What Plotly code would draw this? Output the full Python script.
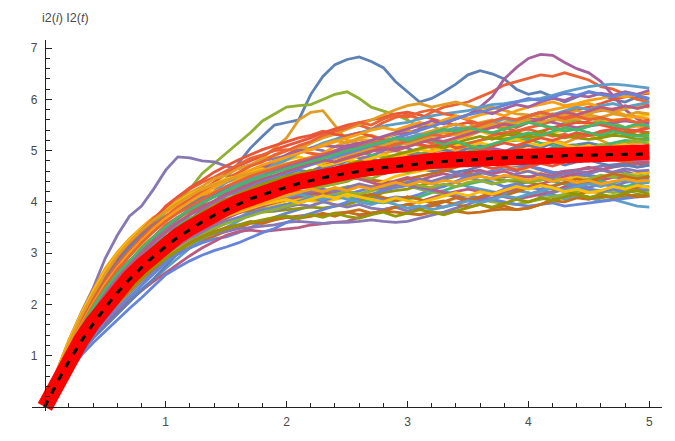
import plotly.graph_objects as go

# time grid (step 0.1 from 0 to 5)
t = [round(0.1 * k, 1) for k in range(51)]

# theoretical mean (thick red) and sample mean (black dashed)
mean_curve = [0, .48, .91, 1.30, 1.65, 1.97, 2.26, 2.52, 2.75, 2.97, 3.16,
              3.34, 3.49, 3.64, 3.77, 3.88, 3.99, 4.09, 4.17, 4.25, 4.32,
              4.39, 4.45, 4.50, 4.55, 4.59, 4.63, 4.66, 4.70, 4.72, 4.75,
              4.77, 4.80, 4.82, 4.83, 4.85, 4.86, 4.88, 4.89, 4.90, 4.91,
              4.92, 4.93, 4.93, 4.94, 4.94, 4.95, 4.95, 4.96, 4.96, 4.97]
sample_mean = [0, .47, .89, 1.28, 1.62, 1.94, 2.23, 2.49, 2.72, 2.94, 3.13,
               3.31, 3.46, 3.61, 3.74, 3.85, 3.96, 4.06, 4.14, 4.22, 4.29,
               4.36, 4.42, 4.47, 4.52, 4.56, 4.60, 4.63, 4.67, 4.69, 4.72,
               4.74, 4.77, 4.79, 4.80, 4.82, 4.83, 4.85, 4.86, 4.87, 4.88,
               4.89, 4.90, 4.90, 4.91, 4.91, 4.92, 4.92, 4.93, 4.93, 4.94]

# sample paths
p00 = [0, .5, .97, 1.38, 1.76, 2.1, 2.42, 2.7, 2.95, 3.18, 3.4, 3.62, 3.82, 4.0, 4.2, 4.45, 4.75, 5.05, 5.28, 5.5, 5.55, 5.6, 6.1, 6.45, 6.68, 6.78, 6.83, 6.74, 6.62, 6.35, 6.15, 5.95, 6.02, 6.15, 6.3, 6.48, 6.56, 6.5, 6.4, 6.2, 6.1, 6.15, 6.05, 5.95, 6.05, 6.15, 6.1, 6.0, 5.95, 6.05, 6.0]
p01 = [0, .59, 1.1, 1.56, 1.98, 2.37, 2.7, 2.98, 3.22, 3.45, 3.62, 3.8, 3.95, 4.12, 4.3, 4.45, 4.55, 4.7, 4.85, 5.05, 5.25, 5.6, 5.75, 5.78, 5.5, 5.2, 5.15, 5.05, 4.95, 5.0, 4.92, 4.85, 4.8, 4.72, 4.78, 4.7, 4.8, 4.9, 4.95, 5.05, 5.0, 5.1, 5.2, 5.15, 5.25, 5.3, 5.2, 5.1, 5.15, 5.05, 5.1]
p02 = [0, .62, 1.18, 1.68, 2.12, 2.5, 2.82, 3.1, 3.35, 3.58, 3.8, 4.02, 4.25, 4.55, 4.75, 4.95, 5.15, 5.35, 5.58, 5.72, 5.85, 5.88, 5.9, 6.0, 6.1, 6.15, 6.02, 5.85, 5.78, 5.7, 5.6, 5.45, 5.5, 5.35, 5.4, 5.3, 5.45, 5.5, 5.4, 5.55, 5.6, 5.5, 5.42, 5.55, 5.6, 5.5, 5.62, 5.55, 5.45, 5.5, 5.58]
p03 = [0, .53, 1.0, 1.42, 1.8, 2.15, 2.45, 2.72, 2.95, 3.2, 3.4, 3.6, 3.78, 3.95, 4.12, 4.3, 4.4, 4.55, 4.7, 4.78, 4.92, 5.05, 5.15, 5.3, 5.38, 5.45, 5.5, 5.42, 5.55, 5.65, 5.7, 5.62, 5.75, 5.85, 5.9, 5.95, 6.05, 6.15, 6.28, 6.35, 6.42, 6.48, 6.45, 6.52, 6.45, 6.38, 6.25, 6.2, 6.1, 6.0, 5.95]
p04 = [0, .7, 1.3, 1.83, 2.32, 2.9, 3.35, 3.72, 3.92, 4.25, 4.62, 4.88, 4.86, 4.8, 4.78, 4.7, 4.65, 4.72, 4.8, 4.85, 4.9, 4.95, 5.05, 5.0, 4.92, 4.98, 4.85, 4.9, 5.0, 5.1, 5.05, 4.95, 4.9, 4.8, 4.85, 4.75, 4.7, 4.78, 4.65, 4.6, 4.7, 4.62, 4.55, 4.6, 4.5, 4.58, 4.65, 4.55, 4.6, 4.52, 4.48]
p05 = [0, .44, .84, 1.2, 1.52, 1.8, 2.06, 2.28, 2.48, 2.66, 2.85, 2.99, 3.12, 3.24, 3.33, 3.43, 3.5, 3.58, 3.6, 3.66, 3.7, 3.72, 3.75, 3.73, 3.78, 3.8, 3.75, 3.78, 3.82, 3.8, 3.78, 3.75, 3.8, 3.78, 3.82, 3.78, 3.8, 3.84, 3.86, 3.85, 3.88, 3.95, 4.05, 4.1, 4.15, 4.2, 4.18, 4.25, 4.22, 4.28, 4.3]
p06 = [0, .41, .78, 1.12, 1.42, 1.68, 1.93, 2.12, 2.3, 2.48, 2.7, 2.9, 3.1, 3.28, 3.4, 3.5, 3.62, 3.75, 3.82, 3.9, 3.95, 3.98, 4.05, 4.0, 4.08, 4.1, 4.15, 4.22, 4.3, 4.38, 4.45, 4.4, 4.35, 4.32, 4.38, 4.3, 4.25, 4.2, 4.15, 4.22, 4.18, 4.12, 4.15, 4.05, 4.1, 4.08, 4.02, 4.05, 3.98, 3.92, 3.9]
p07 = [0, .61, 1.15, 1.62, 2.05, 2.42, 2.72, 2.96, 3.15, 3.32, 3.48, 3.65, 3.78, 3.9, 4.0, 4.12, 4.25, 4.38, 4.55, 4.7, 4.82, 4.88, 4.8, 4.75, 4.78, 4.8, 4.9, 5.0, 5.05, 5.12, 5.15, 5.2, 5.3, 5.35, 5.42, 5.45, 5.38, 5.3, 5.25, 5.22, 5.2, 5.28, 5.35, 5.4, 5.45, 5.5, 5.55, 5.6, 5.62, 5.68, 5.7]
p08 = [0, .49, .93, 1.33, 1.7, 2.02, 2.35, 2.62, 2.88, 3.1, 3.32, 3.45, 3.55, 3.68, 3.8, 3.88, 4.02, 4.18, 4.3, 4.45, 4.6, 4.7, 4.82, 4.9, 5.0, 5.1, 5.15, 5.2, 5.25, 5.32, 5.35, 5.42, 5.5, 5.55, 5.62, 5.7, 5.85, 6.05, 6.4, 6.62, 6.8, 6.88, 6.86, 6.72, 6.6, 6.52, 6.35, 6.08, 5.8, 5.62, 5.52]
p09 = [0, .46, .87, 1.24, 1.57, 1.87, 2.15, 2.42, 2.68, 2.92, 3.15, 3.36, 3.55, 3.72, 3.88, 4.02, 4.15, 4.2, 4.25, 4.3, 4.32, 4.3, 4.28, 4.32, 4.35, 4.4, 4.5, 4.62, 4.72, 4.78, 4.85, 4.92, 5.0, 5.08, 5.1, 5.15, 5.2, 5.25, 5.22, 5.28, 5.25, 5.3, 5.32, 5.28, 5.25, 5.22, 5.25, 5.3, 5.28, 5.22, 5.25]
p10 = [0, .57, 1.07, 1.51, 1.9, 2.27, 2.62, 2.95, 3.25, 3.5, 3.7, 3.88, 4.05, 4.22, 4.38, 4.55, 4.7, 4.8, 4.9, 5.02, 5.1, 5.18, 5.25, 5.35, 5.42, 5.5, 5.55, 5.6, 5.65, 5.72, 5.75, 5.7, 5.62, 5.55, 5.5, 5.55, 5.48, 5.45, 5.5, 5.45, 5.55, 5.6, 5.7, 5.75, 5.8, 5.85, 5.92, 6.0, 6.05, 6.1, 6.12]
p11 = [0, .43, .82, 1.18, 1.49, 1.77, 2.02, 2.24, 2.44, 2.62, 2.82, 2.98, 3.1, 3.2, 3.28, 3.32, 3.4, 3.5, 3.6, 3.7, 3.78, 3.85, 3.92, 4.02, 4.1, 4.2, 4.15, 4.1, 4.05, 4.1, 4.08, 4.15, 4.25, 4.3, 4.4, 4.5, 4.55, 4.6, 4.65, 4.68, 4.7, 4.65, 4.58, 4.55, 4.5, 4.52, 4.48, 4.5, 4.45, 4.48, 4.45]
p12 = [0, .66, 1.22, 1.72, 2.17, 2.57, 2.9, 3.18, 3.42, 3.65, 3.86, 4.02, 4.12, 4.2, 4.28, 4.38, 4.45, 4.5, 4.58, 4.62, 4.7, 4.8, 4.88, 4.95, 5.08, 5.18, 5.22, 5.2, 5.15, 5.12, 5.15, 5.1, 5.05, 5.0, 5.02, 5.05, 4.98, 4.9, 4.85, 4.82, 4.8, 4.85, 4.92, 5.0, 5.02, 5.05, 5.0, 5.08, 5.12, 5.15, 5.18]
p13 = [0, .4, .76, 1.08, 1.37, 1.62, 1.86, 2.07, 2.27, 2.45, 2.62, 2.78, 2.95, 3.1, 3.22, 3.35, 3.42, 3.45, 3.42, 3.45, 3.48, 3.5, 3.55, 3.58, 3.6, 3.62, 3.7, 3.75, 3.85, 3.9, 3.95, 4.0, 4.08, 4.15, 4.2, 4.25, 4.2, 4.15, 4.1, 4.05, 4.1, 4.15, 4.2, 4.3, 4.35, 4.38, 4.42, 4.48, 4.5, 4.55, 4.58]
p14 = [0, .47, .89, 1.27, 1.61, 1.9, 2.18, 2.42, 2.62, 2.8, 2.98, 3.14, 3.28, 3.4, 3.5, 3.58, 3.68, 3.82, 3.95, 4.05, 4.12, 4.1, 4.05, 4.02, 4.08, 4.1, 4.05, 4.0, 3.98, 4.02, 4.05, 4.1, 4.18, 4.22, 4.3, 4.35, 4.4, 4.45, 4.5, 4.48, 4.5, 4.45, 4.4, 4.35, 4.32, 4.35, 4.4, 4.35, 4.3, 4.35, 4.38]
p15 = [0, .39, .74, 1.06, 1.34, 1.58, 1.82, 2.05, 2.28, 2.5, 2.75, 3.0, 3.22, 3.42, 3.6, 3.72, 3.85, 3.98, 4.1, 4.2, 4.3, 4.42, 4.55, 4.65, 4.72, 4.8, 4.75, 4.72, 4.7, 4.75, 4.72, 4.65, 4.6, 4.62, 4.58, 4.62, 4.7, 4.78, 4.85, 4.88, 4.92, 5.0, 5.05, 5.1, 5.12, 5.15, 5.1, 5.05, 5.0, 4.98, 4.95]
p16 = [0, .55, 1.03, 1.46, 1.84, 2.18, 2.48, 2.72, 2.92, 3.12, 3.3, 3.48, 3.65, 3.82, 3.98, 4.2, 4.35, 4.5, 4.62, 4.75, 4.9, 5.02, 5.15, 5.25, 5.32, 5.42, 5.5, 5.6, 5.7, 5.8, 5.88, 5.92, 5.85, 5.9, 5.95, 5.88, 5.82, 5.85, 5.78, 5.72, 5.7, 5.65, 5.72, 5.68, 5.62, 5.65, 5.58, 5.5, 5.45, 5.48, 5.45]
p17 = [0, .49, .94, 1.34, 1.7, 2.02, 2.28, 2.5, 2.7, 2.9, 3.1, 3.28, 3.42, 3.55, 3.65, 3.73, 3.8, 3.85, 3.88, 3.9, 3.95, 4.02, 4.12, 4.18, 4.25, 4.3, 4.32, 4.28, 4.3, 4.35, 4.32, 4.25, 4.2, 4.15, 4.1, 4.12, 4.05, 4.0, 3.98, 3.95, 4.0, 4.05, 4.1, 4.15, 4.2, 4.25, 4.22, 4.18, 4.2, 4.22, 4.2]
p18 = [0, .64, 1.2, 1.68, 2.12, 2.5, 2.85, 3.15, 3.4, 3.62, 3.92, 4.1, 4.25, 4.38, 4.48, 4.6, 4.72, 4.85, 4.92, 5.0, 5.02, 5.0, 4.95, 4.92, 4.95, 5.0, 5.08, 5.15, 5.2, 5.22, 5.25, 5.2, 5.15, 5.1, 5.15, 5.12, 5.2, 5.3, 5.35, 5.38, 5.45, 5.5, 5.58, 5.65, 5.7, 5.75, 5.78, 5.82, 5.85, 5.88, 5.9]
p19 = [0, .42, .8, 1.15, 1.45, 1.72, 1.98, 2.22, 2.45, 2.7, 2.93, 3.1, 3.22, 3.32, 3.38, 3.42, 3.48, 3.5, 3.52, 3.55, 3.6, 3.62, 3.6, 3.58, 3.6, 3.6, 3.62, 3.65, 3.62, 3.6, 3.62, 3.68, 3.75, 3.8, 3.88, 3.95, 4.05, 4.15, 4.25, 4.32, 4.4, 4.48, 4.55, 4.6, 4.62, 4.65, 4.7, 4.72, 4.75, 4.78, 4.78]
p20 = [0, .53, .99, 1.4, 1.78, 2.12, 2.4, 2.64, 2.86, 3.06, 3.24, 3.42, 3.6, 3.78, 3.92, 4.12, 4.2, 4.3, 4.4, 4.45, 4.52, 4.55, 4.52, 4.5, 4.48, 4.5, 4.45, 4.42, 4.4, 4.38, 4.45, 4.5, 4.55, 4.6, 4.68, 4.75, 4.82, 4.9, 4.98, 5.05, 5.1, 5.05, 5.0, 4.95, 4.92, 4.95, 4.88, 4.82, 4.78, 4.75, 4.75]
p21 = [0, .51, .96, 1.37, 1.74, 2.08, 2.4, 2.7, 2.98, 3.22, 3.48, 3.68, 3.88, 4.05, 4.2, 4.38, 4.5, 4.6, 4.65, 4.72, 4.82, 4.95, 5.05, 5.15, 5.22, 5.3, 5.35, 5.42, 5.48, 5.52, 5.55, 5.62, 5.68, 5.72, 5.75, 5.78, 5.85, 5.9, 5.92, 5.95, 5.98, 6.02, 6.08, 6.15, 6.2, 6.25, 6.28, 6.3, 6.28, 6.25, 6.22]
p22 = [0, .59, 1.1, 1.55, 1.96, 2.32, 2.6, 2.82, 3.0, 3.2, 3.4, 3.52, 3.6, 3.68, 3.75, 3.82, 3.85, 3.9, 3.92, 3.95, 4.02, 4.05, 4.02, 4.0, 4.05, 4.1, 4.2, 4.3, 4.4, 4.5, 4.55, 4.6, 4.65, 4.7, 4.78, 4.85, 4.8, 4.75, 4.68, 4.65, 4.6, 4.55, 4.5, 4.45, 4.48, 4.45, 4.5, 4.55, 4.52, 4.55, 4.58]
p23 = [0, .44, .84, 1.21, 1.53, 1.83, 2.12, 2.4, 2.68, 2.95, 3.18, 3.42, 3.65, 3.85, 4.0, 4.2, 4.35, 4.5, 4.65, 4.8, 4.92, 5.0, 5.05, 5.1, 5.08, 5.1, 5.05, 5.0, 5.02, 5.05, 5.08, 5.15, 5.22, 5.28, 5.32, 5.35, 5.42, 5.48, 5.52, 5.58, 5.62, 5.6, 5.55, 5.5, 5.45, 5.48, 5.52, 5.55, 5.58, 5.55, 5.6]
p24 = [0, .44, .85, 1.21, 1.53, 1.82, 2.1, 2.35, 2.58, 2.82, 3.05, 3.25, 3.42, 3.58, 3.72, 3.8, 3.85, 3.82, 3.8, 3.82, 3.85, 3.88, 3.9, 3.88, 3.92, 3.95, 4.02, 4.1, 4.18, 4.22, 4.25, 4.32, 4.38, 4.45, 4.5, 4.55, 4.5, 4.45, 4.42, 4.4, 4.38, 4.32, 4.25, 4.2, 4.15, 4.1, 4.08, 4.12, 4.1, 4.15, 4.12]
p25 = [0, .55, 1.03, 1.46, 1.85, 2.2, 2.52, 2.82, 3.1, 3.32, 3.55, 3.7, 3.82, 3.92, 4.0, 4.05, 4.1, 4.15, 4.2, 4.25, 4.32, 4.45, 4.6, 4.7, 4.78, 4.88, 4.95, 5.02, 5.1, 5.18, 5.25, 5.3, 5.35, 5.38, 5.4, 5.45, 5.4, 5.35, 5.32, 5.3, 5.3, 5.38, 5.45, 5.5, 5.55, 5.55, 5.5, 5.45, 5.42, 5.38, 5.35]
p26 = [0, .36, .69, 1.0, 1.25, 1.47, 1.71, 1.92, 2.13, 2.35, 2.58, 2.72, 2.85, 2.96, 3.05, 3.12, 3.2, 3.3, 3.4, 3.48, 3.6, 3.7, 3.78, 3.85, 3.92, 4.0, 4.08, 4.15, 4.22, 4.28, 4.32, 4.28, 4.22, 4.2, 4.15, 4.12, 4.08, 4.05, 4.0, 3.95, 3.92, 3.95, 3.98, 3.92, 3.95, 3.98, 4.02, 4.05, 4.08, 4.1, 4.12]
p27 = [0, .7, 1.31, 1.82, 2.28, 2.7, 3.02, 3.28, 3.5, 3.7, 3.8, 3.95, 4.05, 4.12, 4.2, 4.28, 4.35, 4.38, 4.4, 4.45, 4.52, 4.55, 4.5, 4.52, 4.55, 4.6, 4.68, 4.75, 4.82, 4.88, 4.95, 5.02, 5.1, 5.15, 5.22, 5.28, 5.38, 5.48, 5.55, 5.62, 5.68, 5.75, 5.8, 5.85, 5.88, 5.92, 5.85, 5.78, 5.7, 5.65, 5.62]
p28 = [0, .46, .86, 1.24, 1.57, 1.87, 2.12, 2.35, 2.56, 2.76, 2.98, 3.18, 3.38, 3.55, 3.7, 3.82, 3.95, 4.08, 4.2, 4.3, 4.4, 4.42, 4.45, 4.48, 4.5, 4.5, 4.45, 4.38, 4.32, 4.3, 4.35, 4.3, 4.25, 4.18, 4.1, 4.05, 4.08, 4.15, 4.2, 4.25, 4.3, 4.35, 4.42, 4.5, 4.55, 4.58, 4.62, 4.68, 4.72, 4.75, 4.78]
p29 = [0, .57, 1.07, 1.5, 1.9, 2.25, 2.52, 2.76, 2.98, 3.2, 3.4, 3.55, 3.68, 3.78, 3.85, 3.95, 4.05, 4.18, 4.3, 4.45, 4.6, 4.72, 4.82, 4.88, 4.95, 5.0, 4.98, 4.92, 4.88, 4.9, 4.95, 4.92, 4.95, 4.9, 4.95, 4.98, 5.05, 5.12, 5.18, 5.2, 5.22, 5.15, 5.1, 5.05, 5.08, 5.05, 5.1, 5.15, 5.2, 5.18, 5.22]
p30 = [0, .62, 1.2, 1.7, 2.15, 2.55, 2.85, 3.12, 3.35, 3.55, 3.72, 3.85, 3.95, 4.08, 4.15, 4.28, 4.35, 4.42, 4.38, 4.5, 4.55, 4.62, 4.58, 4.7, 4.75, 4.72, 4.8, 4.85, 4.78, 4.9, 4.95, 4.88, 4.98, 5.02, 4.95, 5.05, 5.1, 5.02, 4.98, 5.08, 5.12, 5.05, 5.15, 5.1, 5.02, 4.95, 5.02, 4.98, 4.92, 5.0, 5.05]
p31 = [0, .66, 1.25, 1.78, 2.22, 2.62, 2.95, 3.22, 3.45, 3.68, 3.85, 4.02, 4.18, 4.3, 4.45, 4.52, 4.65, 4.72, 4.85, 4.9, 5.0, 5.08, 5.02, 5.12, 5.2, 5.15, 5.25, 5.3, 5.22, 5.35, 5.4, 5.32, 5.38, 5.45, 5.52, 5.45, 5.55, 5.6, 5.52, 5.58, 5.65, 5.72, 5.65, 5.7, 5.78, 5.72, 5.8, 5.75, 5.82, 5.88, 5.85]
p32 = [0, .42, .8, 1.16, 1.46, 1.75, 2.0, 2.25, 2.48, 2.72, 2.92, 3.12, 3.28, 3.45, 3.55, 3.68, 3.8, 3.88, 3.95, 4.05, 4.1, 4.18, 4.22, 4.3, 4.35, 4.42, 4.5, 4.45, 4.55, 4.62, 4.58, 4.65, 4.72, 4.68, 4.78, 4.85, 4.8, 4.9, 4.95, 4.88, 4.98, 5.02, 4.95, 5.05, 5.1, 5.05, 5.12, 5.08, 5.15, 5.2, 5.12]
p33 = [0, .6, 1.15, 1.65, 2.08, 2.45, 2.78, 3.05, 3.3, 3.52, 3.72, 3.9, 4.05, 4.2, 4.32, 4.45, 4.58, 4.7, 4.78, 4.92, 5.0, 5.1, 5.18, 5.3, 5.38, 5.45, 5.55, 5.5, 5.62, 5.7, 5.65, 5.75, 5.8, 5.72, 5.68, 5.6, 5.52, 5.58, 5.45, 5.38, 5.42, 5.35, 5.28, 5.32, 5.25, 5.3, 5.35, 5.4, 5.32, 5.38, 5.45]
p34 = [0, .45, .85, 1.22, 1.55, 1.85, 2.12, 2.38, 2.6, 2.8, 3.0, 3.15, 3.3, 3.42, 3.52, 3.62, 3.7, 3.78, 3.85, 3.82, 3.9, 3.95, 3.92, 4.0, 3.95, 3.9, 3.95, 3.88, 3.85, 3.9, 3.82, 3.88, 3.95, 3.9, 3.98, 4.05, 4.0, 4.08, 4.12, 4.05, 4.15, 4.22, 4.18, 4.25, 4.32, 4.28, 4.35, 4.3, 4.38, 4.42, 4.4]
p35 = [0, .5, .95, 1.35, 1.72, 2.05, 2.35, 2.6, 2.82, 3.02, 3.22, 3.38, 3.52, 3.65, 3.75, 3.85, 3.92, 3.98, 4.05, 4.12, 4.18, 4.22, 4.15, 4.2, 4.12, 4.18, 4.1, 4.15, 4.08, 4.02, 4.1, 4.05, 3.98, 4.02, 3.95, 3.9, 3.95, 3.88, 3.92, 3.85, 3.88, 3.95, 4.02, 4.0, 4.08, 4.05, 4.12, 4.08, 4.15, 4.1, 4.12]
p36 = [0, .56, 1.05, 1.48, 1.88, 2.22, 2.52, 2.8, 3.05, 3.28, 3.5, 3.68, 3.85, 4.0, 4.1, 4.22, 4.35, 4.45, 4.55, 4.62, 4.7, 4.75, 4.85, 4.92, 4.88, 4.98, 5.05, 5.12, 5.08, 5.2, 5.25, 5.32, 5.28, 5.38, 5.45, 5.4, 5.48, 5.55, 5.62, 5.58, 5.68, 5.75, 5.7, 5.78, 5.85, 5.8, 5.88, 5.92, 5.85, 5.9, 5.95]
p37 = [0, .68, 1.28, 1.8, 2.25, 2.65, 2.98, 3.25, 3.48, 3.68, 3.85, 4.0, 4.15, 4.25, 4.35, 4.45, 4.5, 4.58, 4.65, 4.6, 4.68, 4.72, 4.78, 4.7, 4.75, 4.82, 4.78, 4.85, 4.92, 4.88, 4.95, 5.02, 4.98, 5.05, 5.12, 5.08, 5.15, 5.1, 5.18, 5.22, 5.15, 5.1, 5.18, 5.12, 5.05, 5.1, 5.02, 5.08, 5.12, 5.05, 5.1]
p38 = [0, .48, .92, 1.32, 1.68, 2.0, 2.3, 2.55, 2.78, 3.0, 3.2, 3.38, 3.52, 3.68, 3.82, 3.92, 4.05, 4.15, 4.25, 4.32, 4.4, 4.48, 4.52, 4.58, 4.52, 4.6, 4.68, 4.62, 4.7, 4.75, 4.82, 4.78, 4.85, 4.9, 4.85, 4.92, 4.98, 5.05, 5.0, 4.95, 5.02, 4.95, 4.88, 4.92, 4.85, 4.9, 4.82, 4.88, 4.92, 4.85, 4.88]
p39 = [0, .52, .98, 1.38, 1.75, 2.08, 2.38, 2.65, 2.9, 3.12, 3.32, 3.5, 3.65, 3.8, 3.92, 4.05, 4.15, 4.25, 4.35, 4.42, 4.5, 4.55, 4.62, 4.58, 4.65, 4.72, 4.8, 4.75, 4.85, 4.92, 4.98, 5.05, 5.1, 5.05, 5.15, 5.22, 5.28, 5.22, 5.3, 5.35, 5.3, 5.38, 5.32, 5.25, 5.3, 5.35, 5.28, 5.32, 5.38, 5.3, 5.35]
p40 = [0, .64, 1.22, 1.74, 2.18, 2.58, 2.92, 3.2, 3.45, 3.68, 3.9, 4.1, 4.28, 4.42, 4.58, 4.7, 4.82, 4.92, 5.02, 5.1, 5.18, 5.25, 5.3, 5.38, 5.32, 5.28, 5.35, 5.28, 5.22, 5.15, 5.2, 5.12, 5.08, 5.15, 5.05, 5.1, 5.02, 5.08, 5.15, 5.1, 5.18, 5.25, 5.2, 5.28, 5.35, 5.3, 5.38, 5.42, 5.35, 5.4, 5.45]
p41 = [0, .4, .77, 1.1, 1.4, 1.68, 1.92, 2.15, 2.38, 2.6, 2.82, 3.02, 3.2, 3.35, 3.48, 3.6, 3.68, 3.75, 3.82, 3.9, 3.95, 4.02, 4.08, 4.02, 4.1, 4.15, 4.22, 4.28, 4.22, 4.3, 4.35, 4.42, 4.38, 4.45, 4.52, 4.48, 4.42, 4.38, 4.3, 4.35, 4.28, 4.25, 4.32, 4.38, 4.3, 4.25, 4.2, 4.25, 4.18, 4.22, 4.25]
p42 = [0, .6, 1.12, 1.6, 2.02, 2.4, 2.72, 3.0, 3.25, 3.48, 3.68, 3.85, 4.0, 4.15, 4.28, 4.4, 4.52, 4.62, 4.72, 4.8, 4.88, 4.95, 5.02, 5.1, 5.18, 5.25, 5.32, 5.4, 5.45, 5.4, 5.48, 5.55, 5.5, 5.6, 5.68, 5.62, 5.7, 5.75, 5.68, 5.78, 5.85, 5.9, 5.95, 5.88, 5.92, 5.98, 6.02, 6.08, 6.05, 6.1, 6.15]
p43 = [0, .45, .86, 1.22, 1.55, 1.84, 2.1, 2.35, 2.58, 2.78, 2.98, 3.15, 3.32, 3.45, 3.58, 3.68, 3.78, 3.85, 3.92, 3.98, 4.05, 4.1, 4.18, 4.12, 4.2, 4.25, 4.32, 4.28, 4.35, 4.42, 4.48, 4.42, 4.5, 4.55, 4.5, 4.58, 4.62, 4.55, 4.6, 4.52, 4.48, 4.55, 4.5, 4.58, 4.62, 4.68, 4.62, 4.7, 4.75, 4.68, 4.72]
p44 = [0, .55, 1.02, 1.45, 1.85, 2.2, 2.5, 2.75, 3.0, 3.22, 3.42, 3.6, 3.75, 3.9, 4.02, 4.15, 4.28, 4.4, 4.5, 4.6, 4.68, 4.78, 4.85, 4.9, 4.98, 5.05, 5.0, 5.08, 5.15, 5.1, 5.18, 5.25, 5.2, 5.12, 5.18, 5.1, 5.05, 5.12, 5.2, 5.28, 5.35, 5.3, 5.38, 5.45, 5.4, 5.48, 5.55, 5.5, 5.45, 5.52, 5.48]
p45 = [0, .5, .94, 1.34, 1.7, 2.02, 2.32, 2.58, 2.82, 3.02, 3.22, 3.4, 3.55, 3.68, 3.8, 3.9, 4.0, 4.08, 4.15, 4.22, 4.28, 4.35, 4.42, 4.48, 4.55, 4.5, 4.58, 4.65, 4.6, 4.68, 4.62, 4.7, 4.75, 4.82, 4.78, 4.72, 4.78, 4.85, 4.8, 4.75, 4.7, 4.75, 4.8, 4.72, 4.78, 4.82, 4.75, 4.7, 4.72, 4.68, 4.72]
p46 = [0, .65, 1.24, 1.76, 2.2, 2.6, 2.95, 3.22, 3.45, 3.65, 3.82, 3.98, 4.12, 4.25, 4.35, 4.42, 4.5, 4.55, 4.62, 4.68, 4.75, 4.8, 4.85, 4.78, 4.85, 4.92, 4.98, 5.05, 5.1, 5.18, 5.12, 5.2, 5.28, 5.35, 5.3, 5.38, 5.45, 5.52, 5.48, 5.55, 5.6, 5.55, 5.62, 5.58, 5.65, 5.7, 5.65, 5.72, 5.68, 5.75, 5.72]
p47 = [0, .44, .83, 1.19, 1.5, 1.79, 2.05, 2.3, 2.52, 2.72, 2.9, 3.08, 3.22, 3.35, 3.48, 3.58, 3.65, 3.72, 3.8, 3.85, 3.92, 3.98, 4.05, 4.1, 4.15, 4.2, 4.15, 4.22, 4.28, 4.32, 4.38, 4.32, 4.28, 4.35, 4.3, 4.38, 4.42, 4.35, 4.4, 4.45, 4.38, 4.42, 4.48, 4.42, 4.38, 4.45, 4.52, 4.48, 4.55, 4.5, 4.52]
p48 = [0, .58, 1.1, 1.56, 1.98, 2.35, 2.68, 2.95, 3.2, 3.42, 3.62, 3.78, 3.92, 4.05, 4.18, 4.3, 4.4, 4.5, 4.58, 4.65, 4.72, 4.8, 4.85, 4.92, 5.0, 4.95, 5.02, 5.1, 5.05, 5.12, 5.18, 5.25, 5.32, 5.28, 5.35, 5.42, 5.5, 5.58, 5.65, 5.6, 5.68, 5.75, 5.7, 5.62, 5.68, 5.6, 5.65, 5.58, 5.62, 5.55, 5.6]
p49 = [0, .47, .88, 1.26, 1.6, 1.9, 2.18, 2.42, 2.64, 2.85, 3.05, 3.22, 3.38, 3.5, 3.62, 3.72, 3.8, 3.88, 3.95, 4.02, 4.08, 4.15, 4.2, 4.25, 4.2, 4.28, 4.35, 4.3, 4.25, 4.32, 4.38, 4.45, 4.4, 4.48, 4.55, 4.5, 4.58, 4.52, 4.48, 4.55, 4.6, 4.52, 4.48, 4.55, 4.6, 4.55, 4.62, 4.58, 4.65, 4.6, 4.62]
p50 = [0, .43, .81, 1.17, 1.48, 1.76, 2.02, 2.26, 2.5, 2.7, 2.9, 3.05, 3.2, 3.32, 3.42, 3.5, 3.55, 3.62, 3.58, 3.65, 3.7, 3.68, 3.72, 3.78, 3.72, 3.8, 3.85, 3.78, 3.82, 3.9, 3.95, 3.88, 3.92, 4.0, 4.08, 4.02, 4.1, 4.18, 4.12, 4.2, 4.28, 4.35, 4.3, 4.38, 4.45, 4.4, 4.48, 4.55, 4.5, 4.45, 4.5]
p51 = [0, .46, .88, 1.25, 1.58, 1.88, 2.15, 2.4, 2.62, 2.82, 3.02, 3.2, 3.35, 3.5, 3.62, 3.72, 3.82, 3.9, 3.98, 4.05, 4.1, 4.15, 4.1, 4.05, 4.12, 4.05, 4.0, 3.95, 4.02, 3.95, 3.88, 3.92, 3.85, 3.9, 3.95, 4.02, 3.98, 4.05, 4.12, 4.08, 4.15, 4.2, 4.28, 4.22, 4.3, 4.35, 4.3, 4.38, 4.42, 4.35, 4.4]
p52 = [0, .5, .93, 1.32, 1.66, 1.96, 2.24, 2.48, 2.7, 2.9, 3.08, 3.25, 3.4, 3.52, 3.62, 3.72, 3.8, 3.88, 3.95, 4.0, 4.05, 3.98, 4.05, 4.12, 4.08, 4.15, 4.1, 4.05, 4.0, 4.08, 4.02, 3.98, 4.05, 4.12, 4.18, 4.12, 4.2, 4.15, 4.22, 4.3, 4.25, 4.32, 4.28, 4.2, 4.25, 4.18, 4.22, 4.3, 4.25, 4.32, 4.28]
p53 = [0, .56, 1.06, 1.5, 1.9, 2.25, 2.55, 2.82, 3.08, 3.3, 3.5, 3.68, 3.85, 3.98, 4.1, 4.22, 4.32, 4.42, 4.5, 4.6, 4.68, 4.75, 4.82, 4.9, 4.98, 5.05, 5.12, 5.2, 5.28, 5.35, 5.42, 5.5, 5.58, 5.52, 5.62, 5.7, 5.78, 5.72, 5.82, 5.9, 5.85, 5.95, 6.02, 5.98, 6.08, 6.05, 6.12, 6.08, 6.15, 6.1, 6.18]
p54 = [0, .44, .83, 1.19, 1.51, 1.8, 2.06, 2.3, 2.52, 2.72, 2.9, 3.05, 3.18, 3.3, 3.4, 3.48, 3.55, 3.6, 3.65, 3.7, 3.72, 3.68, 3.75, 3.7, 3.78, 3.72, 3.68, 3.75, 3.8, 3.72, 3.78, 3.85, 3.8, 3.75, 3.82, 3.88, 3.95, 3.9, 3.98, 4.05, 4.0, 4.08, 4.02, 4.1, 4.15, 4.08, 4.15, 4.1, 4.18, 4.22, 4.15]
p55 = [0, .52, .97, 1.37, 1.74, 2.07, 2.36, 2.62, 2.85, 3.05, 3.25, 3.42, 3.58, 3.72, 3.85, 3.95, 4.05, 4.12, 4.2, 4.28, 4.35, 4.42, 4.48, 4.42, 4.5, 4.58, 4.52, 4.6, 4.55, 4.62, 4.68, 4.62, 4.7, 4.65, 4.72, 4.78, 4.72, 4.65, 4.7, 4.62, 4.68, 4.75, 4.7, 4.78, 4.85, 4.8, 4.88, 4.82, 4.9, 4.85, 4.9]
p56 = [0, .53, 1.0, 1.42, 1.8, 2.14, 2.45, 2.72, 2.98, 3.2, 3.4, 3.58, 3.75, 3.88, 4.0, 4.12, 4.22, 4.32, 4.42, 4.5, 4.58, 4.65, 4.72, 4.8, 4.88, 4.95, 5.02, 5.1, 5.18, 5.25, 5.32, 5.4, 5.48, 5.55, 5.62, 5.7, 5.75, 5.82, 5.88, 5.95, 6.02, 5.98, 6.05, 6.12, 6.08, 6.15, 6.1, 6.05, 6.12, 6.08, 6.02]
p57 = [0, .55, 1.03, 1.44, 1.8, 2.12, 2.38, 2.6, 2.8, 2.98, 3.15, 3.3, 3.42, 3.55, 3.65, 3.75, 3.82, 3.9, 3.98, 4.05, 4.12, 4.18, 4.25, 4.2, 4.28, 4.22, 4.3, 4.25, 4.32, 4.38, 4.32, 4.4, 4.35, 4.42, 4.38, 4.45, 4.5, 4.45, 4.52, 4.48, 4.42, 4.48, 4.4, 4.45, 4.38, 4.42, 4.35, 4.4, 4.45, 4.4, 4.42]
p58 = [0, .54, 1.02, 1.45, 1.84, 2.18, 2.48, 2.75, 3.0, 3.22, 3.42, 3.6, 3.75, 3.9, 4.02, 4.15, 4.25, 4.35, 4.45, 4.52, 4.6, 4.68, 4.75, 4.82, 4.78, 4.85, 4.92, 4.98, 5.05, 5.0, 5.08, 5.15, 5.22, 5.18, 5.25, 5.32, 5.38, 5.45, 5.52, 5.48, 5.55, 5.62, 5.68, 5.75, 5.7, 5.78, 5.85, 5.8, 5.88, 5.82, 5.88]
p59 = [0, .58, 1.08, 1.54, 1.95, 2.3, 2.6, 2.86, 3.1, 3.32, 3.52, 3.7, 3.85, 3.98, 4.1, 4.22, 4.32, 4.42, 4.5, 4.58, 4.65, 4.72, 4.78, 4.85, 4.92, 5.0, 5.05, 5.12, 5.18, 5.25, 5.2, 5.28, 5.35, 5.42, 5.38, 5.45, 5.4, 5.35, 5.42, 5.48, 5.55, 5.5, 5.45, 5.38, 5.42, 5.35, 5.3, 5.38, 5.32, 5.28, 5.3]

paths = [p00, p01, p02, p03, p04, p05, p06, p07, p08, p09,
         p10, p11, p12, p13, p14, p15, p16, p17, p18, p19,
         p20, p21, p22, p23, p24, p25, p26, p27, p28, p29,
         p30, p31, p32, p33, p34, p35, p36, p37, p38, p39,
         p40, p41, p42, p43, p44, p45, p46, p47, p48, p49,
         p50, p51, p52, p53, p54, p55, p56, p57, p58, p59]

palette = ["#5E81B5", "#E19C24", "#8FB032", "#EB6235", "#8778B3", "#C56E1A",
           "#5D9EC7", "#FFBF00", "#A5609D", "#929600", "#E95536", "#6685D9",
           "#F89F13", "#BC5B80", "#47B66D"]

x_ticks = [1, 2, 3, 4, 5]
y_ticks = [1, 2, 3, 4, 5, 6, 7]
x_minor = [round(0.2 * k, 1) for k in range(1, 26) if k % 5 != 0]
y_minor = [round(0.2 * k, 1) for k in range(1, 36) if k % 5 != 0]

for p in paths:
    assert len(p) == len(t), len(p)

fig = go.Figure()
for i, p in enumerate(paths):
    fig.add_trace(go.Scatter(x=t, y=p, mode="lines",
                             line=dict(color=palette[i % len(palette)], width=2.8),
                             hoverinfo="skip", showlegend=False))

fig.add_trace(go.Scatter(x=t, y=mean_curve, mode="lines",
                         line=dict(color="#FF0000", width=16),
                         hoverinfo="skip", showlegend=False))
fig.add_trace(go.Scatter(x=t, y=sample_mean, mode="lines",
                         line=dict(color="#000000", width=3, dash="7px,8px"),
                         hoverinfo="skip", showlegend=False))

X0, X1 = -0.106, 5.105
Y0, Y1 = -0.08, 7.16
axis_col = "#222222"
tick_font = dict(family="Liberation Sans, Arial, sans-serif", size=12, color="#4a4a4a")

fig.update_layout(
    width=675, height=441,
    margin=dict(l=32, r=13, t=40, b=21),
    paper_bgcolor="white", plot_bgcolor="white",
    showlegend=False,
    xaxis=dict(range=[X0, X1], showgrid=False, zeroline=False,
               showline=True, linecolor=axis_col, linewidth=1,
               anchor="free", position=(0 - Y0) / (Y1 - Y0),
               ticks="inside", ticklen=6, tickwidth=1, tickcolor=axis_col,
               tickmode="array", tickvals=x_ticks, ticktext=[str(v) for v in x_ticks],
               tickfont=tick_font, ticklabelstandoff=4,
               minor=dict(tickmode="array", tickvals=x_minor, ticks="inside",
                          ticklen=4, tickwidth=1, tickcolor=axis_col, showgrid=False)),
    yaxis=dict(range=[Y0, Y1], showgrid=False, zeroline=False,
               showline=True, linecolor=axis_col, linewidth=1,
               anchor="free", position=(0 - X0) / (X1 - X0),
               ticks="inside", ticklen=6, tickwidth=1, tickcolor=axis_col,
               tickmode="array", tickvals=y_ticks, ticktext=[str(v) for v in y_ticks],
               tickfont=tick_font, ticklabelstandoff=5,
               minor=dict(tickmode="array", tickvals=y_minor, ticks="inside",
                          ticklen=4, tickwidth=1, tickcolor=axis_col, showgrid=False)),
    annotations=[dict(text="i2(<i>i</i>) I2(<i>t</i>)", xref="paper", yref="paper",
                      x=(40 - 32) / 630, y=1 + (40 - 17) / 380,
                      xanchor="left", yanchor="middle", showarrow=False,
                      font=dict(family="Liberation Sans, Arial, sans-serif",
                                size=12.5, color="#4a4a4a"))],
)

fig.write_html("out.html")
